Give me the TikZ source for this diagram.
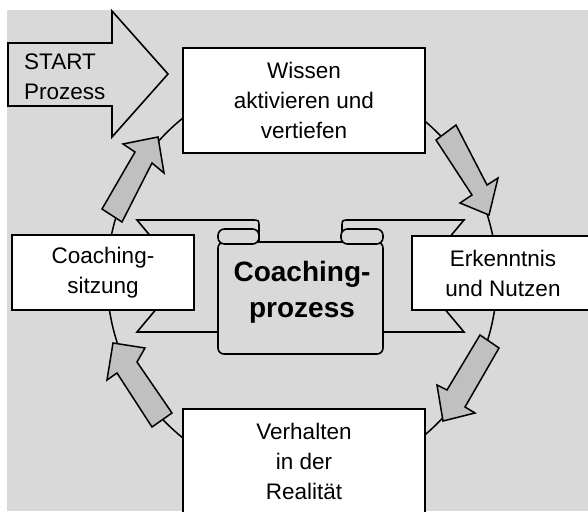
\documentclass[tikz,border=0pt]{standalone}
\usepackage{fontspec}
\setmainfont{Liberation Sans}
\definecolor{bggray}{RGB}{217,217,217}
\definecolor{arrowgray}{RGB}{192,192,192}
\tikzset{
  stepbox/.style={draw, line width=1.6pt, fill=white, align=center, inner sep=0pt,
    font=\fontsize{22.5}{30}\selectfont},
  blockarrow/.style={draw, line width=1.5pt, fill=arrowgray, line join=miter},
  scrollpart/.style={draw, line width=1.6pt, fill=bggray},
}
\begin{document}
\begin{tikzpicture}[x=1pt,y=-1pt]
\useasboundingbox (0,0) rectangle (588,511);
\clip (0,0) rectangle (588,511);
\fill[white] (0,0) rectangle (588,511);
\fill[bggray] (7,10) rectangle (588,511);
% cycle line behind the boxes
\draw[line width=1.5pt] (302,278) ellipse [x radius=195pt, y radius=202pt];
% back of the scroll
\draw[scrollpart] (137,220) -- (252,220) .. controls (259,220) .. (259,227) -- (259,332) -- (137,332) -- (184,276) -- cycle;
\draw[scrollpart] (464,220) -- (349,220) .. controls (342,220) .. (342,227) -- (342,332) -- (464,332) -- (417,276) -- cycle;
% front of the scroll
\draw[scrollpart, rounded corners=6pt] (218,242) rectangle (383,354);
\draw[scrollpart, rounded corners=6.5pt] (218,229) rectangle (259,244);
\draw[scrollpart, rounded corners=6.5pt] (341,229) rectangle (383,244);
\node[font=\bfseries\fontsize{28}{36}\selectfont, align=center, inner sep=0pt] (prozess) at (302,292) {Coaching-\\prozess};
% boxes
\node[stepbox, minimum width=242pt, minimum height=105pt] (wissen) at (304,100.5) {Wissen\\aktivieren und\\vertiefen};
\node[stepbox, minimum width=182pt, minimum height=74pt] (erkenntnis) at (503,273) {Erkenntnis\\und Nutzen};
\node[stepbox, minimum width=242pt, minimum height=104pt] (verhalten) at (304,461) {Verhalten\\in der\\Realit\"at};
\node[stepbox, minimum width=182pt, minimum height=75pt] (sitzung) at (103,272.5) {Coaching-\\sitzung};
% block arrows on the cycle
\draw[blockarrow] (102,209) -- (135,152) -- (123,144) -- (158,137) -- (164,173) -- (152,163) -- (122,222) -- cycle;
\draw[blockarrow] (436,140) -- (456,125) -- (487,185) -- (498,178) -- (489,215) -- (460,203) -- (472,195) -- cycle;
\draw[blockarrow] (480,335) -- (499,348) -- (465,407) -- (475,413) -- (443,421) -- (437,385) -- (447,390) -- cycle;
\draw[blockarrow] (113,343) -- (145,348) -- (137,362) -- (172,413) -- (152,427) -- (117,373) -- (107,380) -- cycle;
% start arrow
\draw[line width=1.6pt, fill=bggray, line join=miter] (8,43) -- (112,43) -- (112,11) -- (168,74) -- (112,137) -- (112,106) -- (8,106) -- cycle;
\node[anchor=north west, align=left, inner sep=0pt, font=\fontsize{22.5}{30}\selectfont] (start) at (24,54) {START\\Prozess};
\end{tikzpicture}
\end{document}
